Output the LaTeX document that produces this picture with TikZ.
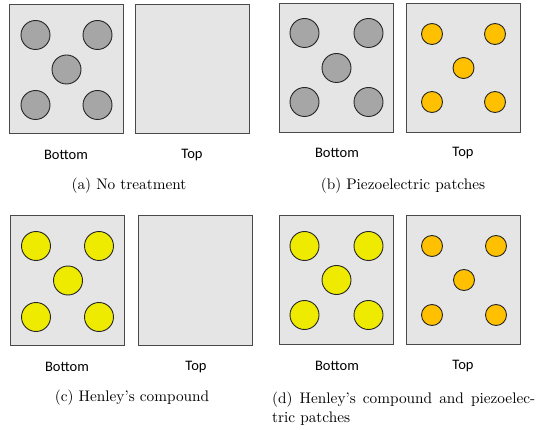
\documentclass[tikz,border=0pt]{standalone}
\usepackage{fontspec}
\newfontfamily\labelfont{Carlito}
\newfontfamily\capfont[Ligatures=TeX]{lmroman10-regular.otf}
\definecolor{platefill}{HTML}{E6E5E6}
\definecolor{plateedge}{HTML}{4A4A4A}
\definecolor{graydot}{HTML}{A6A6A6}
\definecolor{yellowdot}{HTML}{EEEA00}
\definecolor{orangedot}{HTML}{FFC000}
\begin{document}
\begin{tikzpicture}[x=1pt,y=-1pt,
  plate/.style={draw=plateedge,fill=platefill,line width=1pt,minimum width=114pt,minimum height=129pt,inner sep=0pt},
  bigdot/.style={circle,draw=black!85,line width=0.9pt,minimum size=29pt,inner sep=0pt},
  smalldot/.style={circle,draw=black!85,line width=0.9pt,minimum size=21pt,inner sep=0pt,fill=orangedot},
  sidelabel/.style={font=\labelfont\fontsize{14.5}{16}\selectfont,inner sep=0pt},
  caption/.style={font=\capfont\fontsize{15.3}{19.5}\selectfont,inner sep=0pt}]
\useasboundingbox (0,0) rectangle (538,430);
% panel (a)
\node[plate] (aB) at (66.5,69.5) {};
\node[plate] (aT) at (192,69.5) {};
\foreach \dx/\dy [count=\i] in {-31/-34.5,31/-34.5,0/0,-31/35.5,31/35.5}
  \node[bigdot,fill=graydot] (aB\i) at ([shift={(\dx,\dy)}]aB.center) {};
\node[sidelabel] (aBl) at (66,155) {Bottom};
\node[sidelabel] (aTl) at (192,155) {Top};
\node[caption] (acap) at (129,186) {(a) No treatment};
% panel (b)
\node[plate] (bB) at (336.5,68) {};
\node[plate] (bT) at (463.5,68) {};
\foreach \dx/\dy [count=\i] in {-32/-35,32/-35,0/0,-32/34,32/34}
  \node[bigdot,fill=graydot] (bB\i) at ([shift={(\dx,\dy)}]bB.center) {};
\foreach \dx/\dy [count=\i] in {-31.5/-34,31.5/-34,0/0,-31.5/34,31.5/34}
  \node[smalldot] (bT\i) at ([shift={(\dx,\dy)}]bT.center) {};
\node[sidelabel] (bBl) at (337,153) {Bottom};
\node[sidelabel] (bTl) at (463,153) {Top};
\node[caption] (bcap) at (403,186) {(b) Piezoelectric patches};
% panel (c)
\node[plate] (cB) at (67,280.5) {};
\node[plate] (cT) at (195.5,280.5) {};
\foreach \dx/\dy [count=\i] in {-31/-34.5,32/-34.5,1/0,-31/36.5,32/36.5}
  \node[bigdot,fill=yellowdot] (cB\i) at ([shift={(\dx,\dy)}]cB.center) {};
\node[sidelabel] (cBl) at (67,367) {Bottom};
\node[sidelabel] (cTl) at (196,367) {Top};
\node[caption] (ccap) at (132,398) {(c) Henley’s compound};
% panel (d)
\node[plate] (dB) at (336.5,280) {};
\node[plate] (dT) at (463.5,280) {};
\foreach \dx/\dy [count=\i] in {-32/-34,32/-34,0/0,-32/35,32/35}
  \node[bigdot,fill=yellowdot] (dB\i) at ([shift={(\dx,\dy)}]dB.center) {};
\foreach \dx/\dy [count=\i] in {-31.5/-34,32.5/-34,0.5/0,-31.5/35,32.5/35}
  \node[smalldot] (dT\i) at ([shift={(\dx,\dy)}]dT.center) {};
\node[sidelabel] (dBl) at (337,366) {Bottom};
\node[sidelabel] (dTl) at (463,366) {Top};
\node[caption,anchor=north west,text width=263pt,align=justify] (dcap) at (272,391.5) {(d) Henley’s compound and piezoelec\-tric patches};
\end{tikzpicture}
\end{document}
